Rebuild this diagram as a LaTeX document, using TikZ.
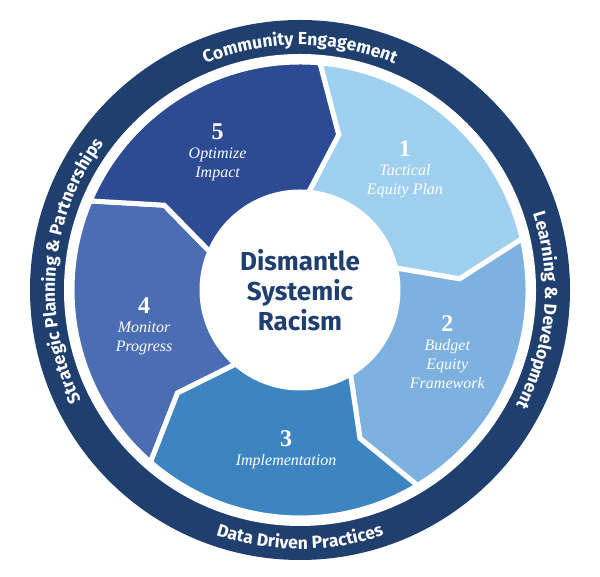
\documentclass[tikz,border=0pt]{standalone}
\usepackage{fontspec}
\setmainfont{Liberation Serif}
\newfontfamily\ringfont{Fira Sans}
\usetikzlibrary{decorations.text}
\definecolor{ringblue}{HTML}{1F3F6F}
\definecolor{segA}{HTML}{9FD0F0}
\definecolor{segB}{HTML}{7DB1DF}
\definecolor{segC}{HTML}{3D85C1}
\definecolor{segD}{HTML}{4A6DB3}
\definecolor{segE}{HTML}{2C4B93}
\tikzset{
  segment/.style={draw=white, line width=5pt, line join=miter},
  ringtext/.style={decorate, decoration={text along path, text align=center,
    text color=white, text format delimiters={|}{|}}},
  steplabel/.style={align=center, text=white, font=\itshape\fontsize{16}{19}\selectfont}
}
\begin{document}
\begin{tikzpicture}[x=1pt,y=1pt]
\useasboundingbox (0,0) rectangle (600,577);
\begin{scope}[shift={(300,287)}]
% outer ring
\fill[ringblue] (0,0) circle (270);
\fill[white] (0,0) circle (236);
% step segments
\foreach \n/\s/\col/\lab in {1/85/segA/{Tactical\\Equity Plan},
                            2/13/segB/{Budget\\Equity\\Framework},
                            3/-59/segC/{Implementation},
                            4/-131/segD/{Monitor\\Progress},
                            5/157/segE/{Optimize\\Impact}}{
  \pgfmathsetmacro\e{\s-72}
  \filldraw[segment, fill=\col] (\s:228) arc[start angle=\s, end angle=\e, radius=228]
    -- (\e-9:160) -- (\e:98) arc[start angle=\e, end angle=\s, radius=98]
    -- (\s-9:160) -- cycle;
  \node[steplabel] (lab\n) at (\s-36:160) {{\upshape\bfseries\fontsize{24}{26}\selectfont\n}\\\lab};
}
% centre
\fill[white] (0,0) circle (96);
\node[align=center, text=ringblue, font=\ringfont\bfseries\fontsize{26}{30}\selectfont] (centre) at (0,0) {Dismantle\\Systemic\\Racism};
% ring labels
\path[ringtext, decoration={text={|\ringfont\bfseries\fontsize{17.5}{17}\selectfont|Community Engagement}}]
  (130:245) arc[start angle=130, end angle=50, radius=245];
\path[ringtext, decoration={text={|\ringfont\bfseries\fontsize{17.5}{17}\selectfont|Learning {\&} Development}}]
  (42:245) arc[start angle=42, end angle=-52, radius=245];
\path[ringtext, decoration={text={|\ringfont\bfseries\fontsize{17.5}{17}\selectfont|Data Driven Practices}}]
  (230:259) arc[start angle=230, end angle=310, radius=259];
\path[ringtext, decoration={text={|\ringfont\bfseries\fontsize{17.5}{17}\selectfont|Strategic Planning {\&} Partnerships}}]
  (232:245) arc[start angle=232, end angle=118, radius=245];
\end{scope}
\end{tikzpicture}
\end{document}
